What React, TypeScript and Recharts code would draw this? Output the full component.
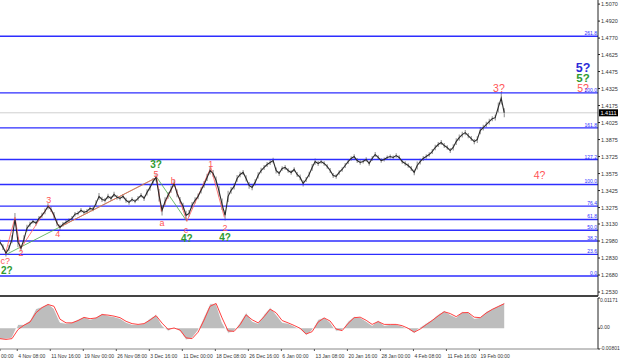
import React from 'react'
import { ComposedChart, Line, Area, Bar, XAxis, YAxis, ReferenceLine, ReferenceDot } from 'recharts'

// H4 closes, one value every 4 bars
const closes = [
  1.2970, 1.2926, 1.2873, 1.2917, 1.2996, 1.3172, 1.2970, 1.2917, 1.2996, 1.3093,
  1.3128, 1.3154, 1.3137, 1.3180, 1.3207, 1.3242, 1.3286, 1.3260, 1.3207, 1.3137,
  1.3101, 1.3128, 1.3145, 1.3163, 1.3180, 1.3216, 1.3224, 1.3251, 1.3233, 1.3242,
  1.3268, 1.3260, 1.3312, 1.3374, 1.3347, 1.3339, 1.3374, 1.3356, 1.3391, 1.3365,
  1.3356, 1.3374, 1.3339, 1.3321, 1.3347, 1.3330, 1.3356, 1.3383, 1.3356, 1.3409,
  1.3453, 1.3506, 1.3541, 1.3383, 1.3251, 1.3330, 1.3383, 1.3435, 1.3488, 1.3400,
  1.3339, 1.3286, 1.3207, 1.3224, 1.3295, 1.3339, 1.3374, 1.3427, 1.3479, 1.3541,
  1.3602, 1.3576, 1.3514, 1.3418, 1.3304, 1.3207, 1.3374, 1.3427, 1.3462, 1.3532,
  1.3567, 1.3585, 1.3532, 1.3471, 1.3453, 1.3497, 1.3558, 1.3602, 1.3629, 1.3655,
  1.3673, 1.3690, 1.3602, 1.3576, 1.3620, 1.3629, 1.3602, 1.3585, 1.3611, 1.3567,
  1.3541, 1.3488, 1.3523, 1.3567, 1.3629, 1.3681, 1.3664, 1.3681, 1.3664, 1.3638,
  1.3602, 1.3558, 1.3550, 1.3585, 1.3611, 1.3646, 1.3681, 1.3708, 1.3725, 1.3690,
  1.3673, 1.3681, 1.3699, 1.3664, 1.3708, 1.3743, 1.3717, 1.3690, 1.3699, 1.3717,
  1.3725, 1.3717, 1.3734, 1.3717, 1.3681, 1.3664, 1.3646, 1.3620, 1.3585, 1.3646,
  1.3681, 1.3708, 1.3725, 1.3743, 1.3769, 1.3805, 1.3831, 1.3849, 1.3822, 1.3805,
  1.3778, 1.3805, 1.3857, 1.3892, 1.3919, 1.3936, 1.3910, 1.3884, 1.3857, 1.3875,
  1.3954, 1.3980, 1.4007, 1.4033, 1.4059, 1.4068, 1.4156, 1.4240, 1.4111,
]
// high-low range of each 4-bar block, in pips
const rangesPips = [
  45, 50, 60, 55, 70, 110, 90, 60, 70, 60,
  45, 40, 45, 40, 45, 50, 55, 50, 60, 55,
  50, 40, 40, 35, 40, 40, 35, 40, 35, 40,
  40, 35, 55, 60, 45, 40, 45, 40, 45, 40,
  35, 40, 45, 40, 40, 35, 40, 40, 45, 55,
  60, 60, 70, 110, 90, 70, 60, 60, 65, 70,
  60, 65, 80, 60, 60, 55, 50, 55, 60, 65,
  70, 60, 70, 90, 100, 90, 100, 60, 55, 60,
  50, 45, 55, 60, 50, 55, 55, 50, 45, 45,
  45, 50, 55, 45, 40, 45, 40, 40, 40, 45,
  50, 55, 45, 50, 60, 55, 45, 40, 40, 40,
  45, 45, 40, 40, 40, 45, 45, 40, 40, 45,
  40, 35, 40, 40, 45, 45, 40, 40, 35, 35,
  35, 35, 40, 40, 40, 40, 40, 45, 50, 70,
  50, 45, 40, 40, 45, 50, 45, 45, 45, 40,
  45, 55, 60, 55, 50, 45, 45, 45, 45, 60,
  65, 50, 50, 50, 45, 50, 90, 110, 80,
]
const CLOSE_STEP = 4
const lastPrice = 1.4111

// oscillator histogram and signal, one value every 8 bars
const oscHist = [
  -0.0042, -0.0042, -0.0038, 0.0015, 0.0015, 0.0030, 0.0076, 0.0083, 0.0095, 0.0076,
  0.0023, 0.0019, 0.0023, 0.0034, 0.0045, 0.0034, 0.0042, 0.0057, 0.0049, 0.0045,
  0.0038, 0.0023, 0.0015, 0.0015, 0.0019, 0.0038, 0.0053, 0.0011, -0.0011, 0.0004,
  -0.0011, -0.0045, -0.0038, -0.0008, 0.0045, 0.0095, 0.0095, 0.0023, -0.0019, -0.0011,
  0.0023, 0.0061, 0.0027, 0.0019, 0.0053, 0.0080, 0.0053, 0.0023, 0.0019, 0.0008,
  -0.0004, -0.0027, -0.0008, 0.0034, 0.0042, 0.0023, -0.0011, -0.0008, 0.0027, 0.0045,
  0.0042, 0.0027, 0.0011, 0.0030, 0.0011, 0.0015, 0.0015, 0.0008, -0.0004, -0.0019,
  0.0004, 0.0019, 0.0034, 0.0053, 0.0068, 0.0053, 0.0042, 0.0064, 0.0061, 0.0038,
  0.0042, 0.0064, 0.0076, 0.0087, 0.0099,
]
const oscSignal = [
  -0.0040, -0.0043, -0.0040, -0.0005, 0.0012, 0.0024, 0.0060, 0.0080, 0.0092, 0.0085,
  0.0035, 0.0021, 0.0021, 0.0030, 0.0042, 0.0037, 0.0040, 0.0053, 0.0051, 0.0047,
  0.0041, 0.0027, 0.0018, 0.0015, 0.0018, 0.0032, 0.0049, 0.0020, -0.0004, 0.0001,
  -0.0007, -0.0037, -0.0040, -0.0015, 0.0032, 0.0085, 0.0096, 0.0040, -0.0010, -0.0012,
  0.0014, 0.0052, 0.0033, 0.0021, 0.0045, 0.0074, 0.0060, 0.0030, 0.0021, 0.0011,
  0.0000, -0.0022, -0.0013, 0.0024, 0.0040, 0.0028, -0.0003, -0.0009, 0.0019, 0.0041,
  0.0043, 0.0031, 0.0015, 0.0026, 0.0015, 0.0015, 0.0015, 0.0010, 0.0000, -0.0015,
  -0.0003, 0.0014, 0.0030, 0.0048, 0.0064, 0.0057, 0.0045, 0.0060, 0.0061, 0.0043,
  0.0041, 0.0059, 0.0073, 0.0084, 0.0095,
]
const OSC_STEP = 8

const fibNames = ['0.0', '23.6', '38.2', '50.0', '61.8', '76.4', '100.0', '127.2', '161.8', '200.0', '261.8']
const fibPrices = [1.2671, 1.2862, 1.2980, 1.3075, 1.3170, 1.3288, 1.3479, 1.3699, 1.3978, 1.4287, 1.4786]

const priceTicks = [
  1.2530, 1.2680, 1.2830, 1.2980, 1.3130, 1.3275, 1.3425, 1.3575, 1.3725,
  1.3875, 1.4025, 1.4175, 1.4325, 1.4475, 1.4625, 1.4770, 1.4920, 1.5070,
]
const oscTicks = [-0.00801, 0, 0.01171]

const dateTicks = [0, 23, 67, 111, 155, 199, 243, 287, 331, 375, 419, 463, 507, 551, 595, 639]
const dateLabels = [
  '00:00', '4 Nov 08:00', '11 Nov 16:00', '19 Nov 00:00', '26 Nov 08:00', '3 Dec 16:00',
  '11 Dec 00:00', '18 Dec 08:00', '26 Dec 16:00', '6 Jan 00:00', '13 Jan 08:00',
  '20 Jan 16:00', '28 Jan 00:00', '4 Feb 08:00', '11 Feb 16:00', '19 Feb 00:00',
]

// wave count zigzags (bar, price)
const redWaveBars = [7, 20, 27, 65, 79, 209, 215, 232, 249, 281, 299]
const redWavePrices = [1.2864, 1.3189, 1.2908, 1.3295, 1.3101, 1.3541, 1.3242, 1.3488, 1.3154, 1.3629, 1.3189]
const greenWaveBars = [9, 79, 209, 249]
const greenWavePrices = [1.2864, 1.3101, 1.3541, 1.3154]

const labelTexts = ['c?', '2?', '2', '3', '4', '3?', '5', 'a', 'b', 'c', '4?', '1', '2', '4?', '3?', '4?', '5?', '5?', '5?']
const labelBars = [7, 9, 28, 65, 77, 208, 208, 216, 231, 248, 249, 281, 300, 300, 665, 719, 777, 777, 777]
const labelPrices = [1.2802, 1.2723, 1.2873, 1.3339, 1.3040, 1.3655, 1.3567, 1.3137, 1.3506, 1.3080, 1.3005, 1.3655, 1.3093, 1.3013, 1.4332, 1.3558, 1.4508, 1.4420, 1.4332]
const labelDegrees = ['sub', 'minute', 'sub', 'sub', 'sub', 'minute', 'sub', 'sub', 'sub', 'sub', 'minute', 'sub', 'sub', 'minute', 'subBig', 'subBig', 'minor', 'minuteBig', 'subBig']

const degreeStyle: Record<string, { fill: string; size: number; weight: string }> = {
  sub: { fill: '#ff5555', size: 9, weight: 'normal' },
  subBig: { fill: '#ff5555', size: 10.5, weight: 'normal' },
  minute: { fill: '#2f9a2f', size: 10, weight: 'bold' },
  minuteBig: { fill: '#2f9a2f', size: 11.5, weight: 'bold' },
  minor: { fill: '#2b2bd8', size: 12.5, weight: 'bold' },
}

const priceData = closes.map((c, i) => ({
  bar: i * CLOSE_STEP,
  close: c,
  range: [c - rangesPips[i] * 0.00005, c + rangesPips[i] * 0.00005],
}))
const oscData = oscHist.map((h, i) => ({ bar: i * OSC_STEP, hist: h, signal: oscSignal[i] }))
const redWave = redWaveBars.map((b, i) => ({ bar: b, wave: redWavePrices[i] }))
const greenWave = greenWaveBars.map((b, i) => ({ bar: b, wave: greenWavePrices[i] }))

const X_DOMAIN: [number, number] = [0, 797]
const FONT = '"Liberation Sans", Arial, sans-serif'
const FIB_BLUE = '#2d2dff'

function PriceTick({ x, y, payload }: any) {
  return (
    <text x={x} y={y + 2} fontSize={5.5} fill="#333" fontFamily={FONT} textAnchor="start">
      {Number(payload.value).toFixed(4)}
    </text>
  )
}

function OscTick({ x, y, payload }: any) {
  const v = Number(payload.value)
  return (
    <text x={x - 1} y={v > 0 ? y + 4 : y + 1} fontSize={5} fill="#333" fontFamily={FONT} textAnchor="start">
      {v === 0 ? '0.00' : String(v)}
    </text>
  )
}

function DateTick({ x, y, payload }: any) {
  const i = dateTicks.indexOf(payload.value)
  return (
    <text x={x + 1} y={y + 5} fontSize={5} fill="#333" fontFamily={FONT} textAnchor="start">
      {dateLabels[i]}
    </text>
  )
}

function PriceTag(props: any) {
  const vb = props.viewBox || {}
  const x = (vb.x ?? 0) + (vb.width ?? 0)
  const y = vb.y ?? 0
  return (
    <g>
      <rect x={x + 1} y={y - 3.5} width={19} height={7} fill="#000" />
      <text x={x + 2.5} y={y + 2} fontSize={5.5} fill="#fff" fontFamily={FONT}>
        {lastPrice.toFixed(4)}
      </text>
    </g>
  )
}

export default function App() {
  return (
    <div style={{ position: 'absolute', left: 0, top: 0, width: 620, height: 361, background: '#fff' }}>
      <div style={{ position: 'absolute', left: 0, top: 0 }}>
        <ComposedChart width={620} height={297} data={priceData} margin={{ top: 0, right: 0, left: 0, bottom: 0 }}>
          <XAxis type="number" dataKey="bar" domain={X_DOMAIN} allowDataOverflow tick={false} tickLine={false}
            height={1} axisLine={{ stroke: '#444', strokeWidth: 2 }} />
          <YAxis orientation="right" width={22} domain={[1.2495, 1.5106]} allowDataOverflow ticks={priceTicks}
            interval={0} tick={<PriceTick />} tickSize={2} tickMargin={1} axisLine={{ stroke: '#222' }} tickLine={{ stroke: '#222' }} />
          {fibPrices.map((p, i) => (
            <ReferenceLine key={fibNames[i]} y={p} stroke={FIB_BLUE} strokeWidth={1.4}
              label={{ value: fibNames[i], position: 'insideBottomRight', offset: 1, fontSize: 5, fill: FIB_BLUE, fontFamily: FONT }} />
          ))}
          <ReferenceLine y={lastPrice} stroke="#cfcfcf" strokeWidth={1} label={<PriceTag />} />
          <Bar dataKey="range" barSize={1} fill="#555" isAnimationActive={false} />
          <Line data={greenWave} dataKey="wave" stroke="#4aa84a" strokeWidth={0.8} dot={false} activeDot={false} isAnimationActive={false} />
          <Line data={redWave} dataKey="wave" stroke="#ff5a5a" strokeWidth={0.8} dot={false} activeDot={false} isAnimationActive={false} />
          <Line dataKey="close" stroke="#2a2a2a" strokeWidth={1.1} dot={false} activeDot={false} isAnimationActive={false} />
          {labelTexts.map((t, i) => {
            const s = degreeStyle[labelDegrees[i]]
            return (
              <ReferenceDot key={i} x={labelBars[i]} y={labelPrices[i]} r={0} ifOverflow="visible"
                shape={(p: any) => (
                  <text x={p.cx} y={p.cy} textAnchor="middle" dominantBaseline="central" fontSize={s.size}
                    fontWeight={s.weight} fill={s.fill} fontFamily={FONT}>{t}</text>
                )} />
            )
          })}
        </ComposedChart>
      </div>
      <div style={{ position: 'absolute', left: 0, top: 297 }}>
        <ComposedChart width={620} height={64} data={oscData} margin={{ top: 1, right: 0, left: 0, bottom: 0 }}>
          <XAxis type="number" dataKey="bar" domain={X_DOMAIN} allowDataOverflow ticks={dateTicks} interval={0}
            tick={<DateTick />} tickSize={2} height={12} axisLine={{ stroke: '#888' }} tickLine={{ stroke: '#555' }} />
          <YAxis orientation="right" width={22} domain={[-0.00801, 0.01171]} allowDataOverflow ticks={oscTicks}
            interval={0} tick={<OscTick />} tickSize={2} tickMargin={1} axisLine={{ stroke: '#222' }} tickLine={{ stroke: '#222' }} />
          <Area dataKey="hist" baseValue={0} type="linear" fill="#bdbdbd" fillOpacity={1} stroke="#ffffff"
            strokeWidth={0.8} activeDot={false} isAnimationActive={false} />
          <Line dataKey="signal" type="linear" stroke="#ff4040" strokeWidth={1} dot={false} activeDot={false} isAnimationActive={false} />
        </ComposedChart>
      </div>
    </div>
  )
}
